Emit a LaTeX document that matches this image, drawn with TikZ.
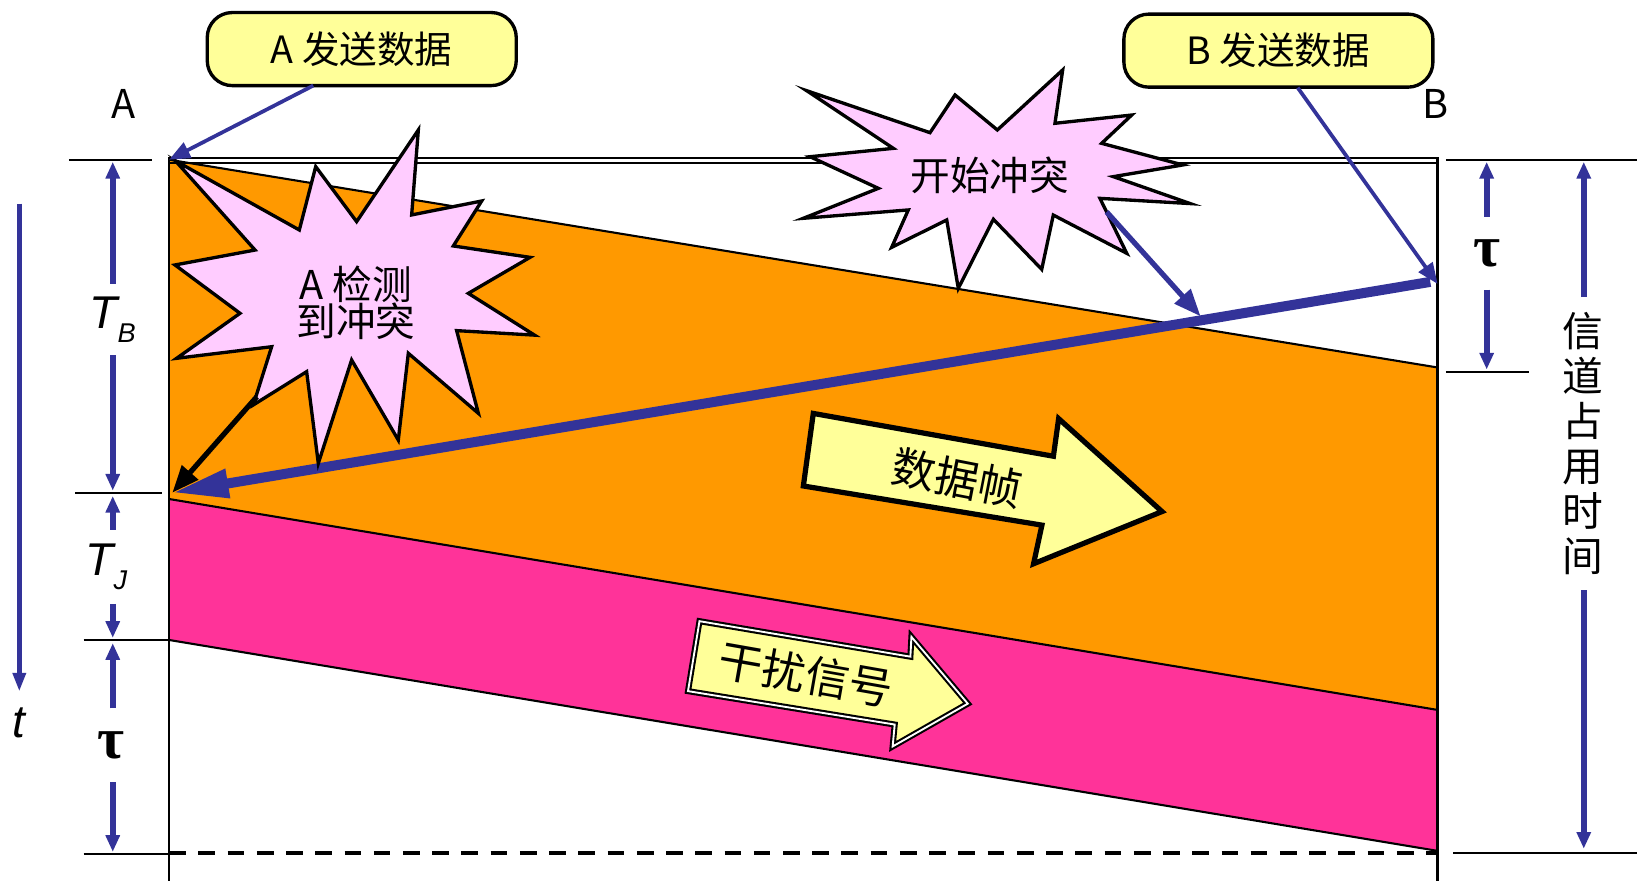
\documentclass[tikz,border=0pt]{standalone}
\usepackage{fontspec}
\setmainfont{Noto Sans CJK SC}
\newfontfamily\lsans{Liberation Sans}
\newfontfamily\lserif{Liberation Serif}
\usetikzlibrary{arrows.meta}
\definecolor{bandorange}{HTML}{FF9900}
\definecolor{bandpink}{HTML}{FF3399}
\definecolor{starpink}{HTML}{FFCCFF}
\definecolor{calloutyellow}{HTML}{FFFF99}
\definecolor{navy}{HTML}{333399}
\begin{document}
\begin{tikzpicture}[x=0.5pt,y=-0.5pt,
  edgeline/.style={black, line width=1pt},
  axisline/.style={black, line width=1.3pt},
  tickline/.style={black, line width=1.1pt},
  callout/.style={draw=black, line width=1.6pt, fill=calloutyellow, rounded corners=12pt,
    minimum width=148pt, minimum height=35pt, font=\fontsize{18pt}{20pt}\selectfont},
  starshape/.style={draw=black, line width=1.6pt, fill=starpink, line join=miter},
  startext/.style={font=\fontsize{19pt}{18pt}\selectfont, align=center},
  pointer/.style={navy, line width=1.8pt, -{Triangle[length=10pt,width=8pt]}},
  dimarrow/.style={navy, line width=2.8pt, -{Triangle[length=8pt,width=6.5pt]}},
  dimlabel/.style={inner sep=0pt, minimum width=20pt},
  bigarrow/.style={draw=black, line width=2.5pt, fill=calloutyellow, line join=miter},
  jamarrow/.style={draw=black, line width=1pt, double=white, double distance=0.9pt, fill=calloutyellow, line join=miter},
  arrowtext/.style={font=\fontsize{21pt}{22pt}\selectfont},
  endlabel/.style={font=\fontsize{19pt}{22pt}\selectfont},
  taulabel/.style={font=\lserif\bfseries\fontsize{28pt}{28pt}\selectfont},
  tlabel/.style={font=\lsans\itshape\fontsize{22pt}{22pt}\selectfont}
]
\useasboundingbox (0,0) rectangle (1568,844);

% key coordinates
\coordinate (A0) at (162,153);
\coordinate (Atop) at (162,151);
\coordinate (Btop) at (1377,151);
\coordinate (Btopin) at (1377,156);
\coordinate (Aend) at (162,844);
\coordinate (Bend) at (1377,844);
\coordinate (fTopR) at (1377,352);
\coordinate (fBotL) at (162,478);
\coordinate (fBotR) at (1377,680);
\coordinate (jBotL) at (162,613);
\coordinate (jBotR) at (1377,815);
\coordinate (dashL) at (162,817);
\coordinate (dashR) at (1377,817);
\coordinate (blueS) at (1370,270);
\coordinate (blueT) at (165,472);
\coordinate (hitB) at (1377,272);
\coordinate (collide) at (1150,303);

% bands
\fill[bandorange] (A0) -- (fTopR) -- (fBotR) -- (fBotL) -- cycle;
\fill[bandpink] (fBotL) -- (fBotR) -- (jBotR) -- (jBotL) -- cycle;
\draw[edgeline] (A0) -- (fTopR);
\draw[edgeline] (fBotL) -- (fBotR);
\draw[edgeline] (jBotL) -- (jBotR);
\draw[edgeline] (Atop) rectangle (Btopin);
\draw[axisline] (Atop) -- (Aend);
\draw[axisline] (Btop) -- (Bend);
\draw[black, line width=1.5pt, dash pattern=on 8pt off 6pt] (dashL) -- (dashR);

% ticks
\coordinate (tL0a) at (66,153);   \coordinate (tL0b) at (146,153);
\coordinate (tL1a) at (72,472);   \coordinate (tL1b) at (155,472);
\coordinate (tL2a) at (80,613);   \coordinate (tL2b) at (162,613);
\coordinate (tL3a) at (80,818);   \coordinate (tL3b) at (162,818);
\coordinate (tR0a) at (1385,153); \coordinate (tR0b) at (1568,153);
\coordinate (tR1a) at (1385,356); \coordinate (tR1b) at (1465,356);
\coordinate (tR2a) at (1392,817); \coordinate (tR2b) at (1568,817);
\foreach \p in {L0,L1,L2,L3,R0,R1,R2} \draw[tickline] (t\p a) -- (t\p b);

% data frame arrow
\draw[bigarrow] (779,396) -- (1009,437) -- (1014,401) -- (1113,490) -- (990,540) -- (998,503) -- (769.5,465.5) -- cycle;
\node[arrowtext, rotate=-11] (frameText) at (917,458) {数据帧};

% jam arrow
\draw[jamarrow] (670,595) -- (872,629) -- (873,610) -- (927,674) -- (855,715) -- (857,694) -- (659,662) -- cycle;
\node[arrowtext, rotate=-10] (jamText) at (772,646) {干扰信号};

% B's signal (thick blue)
\draw[navy, line width=4.8pt, -{Triangle[length=27pt,width=13pt]}] (blueS) -- (blueT);

% star A
\draw[starshape] (168,154) -- (286.7,220.3) -- (302.4,159.6) -- (341.6,212.3) -- (400.7,124.5) -- (394.3,205.9) -- (461.4,192.5) -- (434.2,235.6) -- (507.7,246.5) -- (448.6,281) -- (512,321) -- (437.4,316.7) -- (458.2,395.9) -- (391.1,338.4) -- (381.5,421.5) -- (336.8,344.8) -- (304.9,443.8) -- (293.7,356) -- (242.6,387.9) -- (260.2,332.1) -- (169.2,343.2) -- (229.9,300.1) -- (167.6,253.8) -- (244.3,239.5) -- cycle;
\node[startext] (starAtext) at (341,290) {A 检测\\到冲突};
\coordinate (starAfoot) at (246,380);
\draw[black, line width=2.5pt, -{Triangle[length=13pt,width=10pt]}] (starAfoot) -- (blueT);

% star C
\draw[starshape] (772.7,86.9) -- (890.8,127.1) -- (914.8,91) -- (955.3,124.5) -- (1017.9,67) -- (1010.5,118.1) -- (1084,110.2) -- (1055.2,137.3) -- (1133,158) -- (1066.4,169.2) -- (1140,195) -- (1053.6,190) -- (1079.2,242.6) -- (1008.9,206) -- (997.8,258) -- (951.5,210) -- (917.9,276.2) -- (906.8,210.7) -- (854.1,236.9) -- (870,201.1) -- (769.5,209.1) -- (841.3,180.4) -- (775.9,150.1) -- (855.7,142.1) -- cycle;
\node[startext] (starCtext) at (948,168) {开始冲突};
\coordinate (starCfoot) at (1060,203);
\draw[navy, line width=2.5pt, -{Triangle[length=13pt,width=10pt]}] (starCfoot) -- (collide);

% callouts
\node[callout] (calA) at (346.5,47) {A 发送数据};
\node[callout] (calB) at (1224.5,48.5) {B 发送数据};
\coordinate (calAfoot) at (300,82);
\coordinate (calBfoot) at (1243,84);
\draw[pointer] (calAfoot) -- (A0);
\draw[pointer] (calBfoot) -- (hitB);

% station labels
\node[endlabel] (labA) at (118,100) {A};
\node[endlabel] (labB) at (1375,100) {B};

% left dimensions
\node[dimlabel, minimum height=34pt, font=\lsans\itshape\fontsize{22pt}{22pt}\selectfont] (lblTB) at (108,306) {T\raisebox{-0.3em}{\fontsize{13pt}{13pt}\selectfont B}};
\coordinate (dTBtop) at (108,155); \coordinate (dTBbot) at (108,470);
\draw[dimarrow] (lblTB.north) -- (dTBtop);
\draw[dimarrow] (lblTB.south) -- (dTBbot);

\node[dimlabel, minimum height=35pt, font=\lsans\itshape\fontsize{22pt}{22pt}\selectfont] (lblTJ) at (102,543) {T\raisebox{-0.3em}{\fontsize{13pt}{13pt}\selectfont J}};
\coordinate (dTJtop) at (108,475); \coordinate (dTJbot) at (108,611);
\draw[dimarrow] ([xshift=3pt]lblTJ.north) -- (dTJtop);
\draw[dimarrow] ([xshift=3pt]lblTJ.south) -- (dTJbot);

\node[dimlabel, minimum height=35pt, taulabel] (lblTauL) at (106,714) {τ};
\coordinate (dTLtop) at (108,616); \coordinate (dTLbot) at (108,816);
\draw[dimarrow] ([xshift=1pt]lblTauL.north) -- (dTLtop);
\draw[dimarrow] ([xshift=1pt]lblTauL.south) -- (dTLbot);

% time axis
\coordinate (tAxTop) at (18.5,195);
\node[tlabel] (lblT) at (18.5,692) {t};
\draw[navy, line width=2.4pt, -{Triangle[length=9pt,width=6pt]}] (tAxTop) -- ([yshift=4pt]lblT.north);

% right dimensions
\node[dimlabel, minimum height=34.5pt, taulabel] (lblTauR) at (1424,242.5) {τ};
\coordinate (dTRtop) at (1424,155); \coordinate (dTRbot) at (1424,354);
\draw[dimarrow] (lblTauR.north) -- (dTRtop);
\draw[dimarrow] (lblTauR.south) -- (dTRbot);

\node[dimlabel, minimum height=140pt, align=center, font=\fontsize{19.5pt}{21.5pt}\selectfont] (lblOcc) at (1516,425) {信\\道\\占\\用\\时\\间};
\coordinate (dOtop) at (1517,155); \coordinate (dObot) at (1517,813);
\draw[dimarrow] ([xshift=0.5pt]lblOcc.north) -- (dOtop);
\draw[dimarrow] ([xshift=0.5pt]lblOcc.south) -- (dObot);
\end{tikzpicture}
\end{document}
